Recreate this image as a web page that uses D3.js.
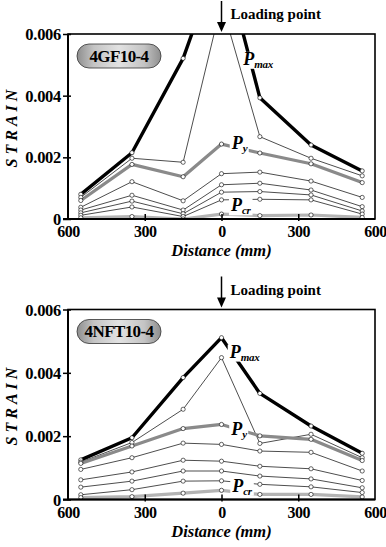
<!DOCTYPE html>
<html><head><meta charset="utf-8">
<script src="https://cdn.jsdelivr.net/npm/d3@7"></script>
<style>
html,body{margin:0;padding:0;background:#fff;}
svg{display:block;}
</style></head>
<body>
<svg id="c" width="386" height="547" font-family="Liberation Serif" font-weight="bold"></svg>
<script>
// ---------- data ----------
const distances = [-550, -350, -150, 0, 150, 350, 550];
const xTickValues = [-600, -300, 0, 300, 600];
const xTickLabels = ["600", "300", "0", "300", "600"];
const yTickValues = [0, 0.002, 0.004, 0.006];
const yTickLabels = ["0", "0.002", "0.004", "0.006"];

// Specimen 4GF10-4
const gfPmax = [0.0008, 0.00215, 0.00521, 0.0087, 0.00393, 0.0024, 0.00156];
const gfL2   = [0.0007, 0.00197, 0.00184, 0.0070, 0.00267, 0.00197, 0.0014];
const gfPy   = [0.0006, 0.00177, 0.00137, 0.00243, 0.00214, 0.00179, 0.00118];
const gfL4   = [0.00038, 0.00121, 0.00059, 0.00147, 0.00152, 0.00123, 0.0007];
const gfL5   = [0.00029, 0.00077, 0.00029, 0.00111, 0.00116, 0.00094, 0.0004];
const gfL6   = [0.0002, 0.00058, 0.00017, 0.00087, 0.00089, 0.00078, 0.00026];
const gfL7   = [0.00012, 0.00039, 0.00008, 0.00062, 0.00064, 0.00062, 0.00016];
const gfPcr  = [0.00004, 0.00008, 0.0, 0.00016, 0.00011, 0.00013, 0.00005];

// Specimen 4NFT10-4
const nfPmax = [0.00125, 0.00195, 0.00385, 0.00511, 0.00335, 0.00232, 0.00146];
const nfL2   = [0.00118, 0.0018, 0.00285, 0.00448, 0.00177, 0.00206, 0.00132];
const nfPy   = [0.00114, 0.00169, 0.00224, 0.00237, 0.00201, 0.0019, 0.00123];
const nfL4   = [0.00095, 0.00132, 0.00178, 0.00174, 0.00153, 0.00149, 0.0009];
const nfL5   = [0.00062, 0.00087, 0.00124, 0.00121, 0.00105, 0.00097, 0.0006];
const nfL6   = [0.00039, 0.00058, 0.0009, 0.0009, 0.00074, 0.00065, 0.00037];
const nfL7   = [0.00015, 0.00031, 0.00058, 0.00059, 0.00048, 0.0004, 0.00022];
const nfPcr  = [0.00006, 0.00009, 0.0002, 0.00029, 0.00016, 0.00016, 0.00008];

const specimenNames = ["4GF10-4", "4NFT10-4"];
const xAxisTitle = "Distance (mm)";
const yAxisTitle = "STRAIN";
const loadingText = "Loading point";

// ---------- drawing ----------
const FONT = "Liberation Serif";
const svg = d3.select("#c");
const defs = svg.append("defs");
const grad = defs.append("linearGradient").attr("id","pill").attr("x1","0").attr("x2","1").attr("y1","0").attr("y2","0");
[["0%","#8e8e8e"],["20%","#c4c4c4"],["50%","#e2e2e2"],["80%","#c4c4c4"],["100%","#8e8e8e"]].forEach(s=>grad.append("stop").attr("offset",s[0]).attr("stop-color",s[1]));

function styleFor(kind){
  if(kind==="max") return {stroke:"#000", w:3.4};
  if(kind==="y") return {stroke:"#8a8a8a", w:3.2};
  if(kind==="cr") return {stroke:"#b4b4b4", w:3.2};
  return {stroke:"#000", w:0.7};
}

function txt(sel){ return sel.append("text").attr("font-family",FONT).attr("font-weight","bold").attr("fill","#000"); }

function panel(cfg){
  const x = d3.scaleLinear().domain([-600,600]).range([68,375]);
  const y = d3.scaleLinear().domain([0,0.006]).range([cfg.bottom,cfg.top]);
  const g = svg.append("g");
  const clipId = "clip"+cfg.id;
  defs.append("clipPath").attr("id",clipId).append("rect")
    .attr("x",68).attr("y",cfg.top).attr("width",307).attr("height",cfg.bottom-cfg.top);

  const lineGen = d3.line().x((d,i)=>x(distances[i])).y(d=>y(d));
  const plot = g.append("g").attr("clip-path","url(#"+clipId+")");
  const order = cfg.series.slice().sort((a,b)=>(a.kind==="thin"?0:1)-(b.kind==="thin"?0:1));
  order.forEach(s=>{
    const st = styleFor(s.kind);
    plot.append("path").datum(s.values).attr("d",lineGen)
      .attr("fill","none").attr("stroke",st.stroke).attr("stroke-width",st.w)
      .attr("stroke-linejoin","round");
  });
  cfg.series.forEach(s=>{
    plot.selectAll(null).data(s.values).enter().append("circle")
      .attr("cx",(d,i)=>x(distances[i])).attr("cy",d=>y(d)).attr("r",2.1)
      .attr("fill","#fff").attr("stroke","#000").attr("stroke-width",0.6);
  });

  // P labels with white backgrounds
  cfg.labels.forEach(l=>{
    const t = txt(g).attr("x",x(l.xv)).attr("y",y(l.yv))
      .attr("font-style","italic").attr("font-size",18);
    t.append("tspan").text("P");
    t.append("tspan").attr("font-size",11).attr("dy",3).attr("letter-spacing","-0.3px").text(l.sub);
    const bb = t.node().getBBox();
    g.insert("rect", function(){return t.node();})
      .attr("x",bb.x-1).attr("y",bb.y+3).attr("width",bb.width+2).attr("height",bb.height-4).attr("fill","#fff");
  });

  // frame
  g.append("rect").attr("x",68).attr("y",cfg.top).attr("width",307).attr("height",cfg.bottom-cfg.top)
    .attr("fill","none").attr("stroke","#000").attr("stroke-width",1.6);
  g.append("line").attr("x1",63).attr("x2",375).attr("y1",cfg.bottom).attr("y2",cfg.bottom).attr("stroke","#000").attr("stroke-width",2);
  g.append("line").attr("x1",68).attr("x2",68).attr("y1",cfg.top).attr("y2",cfg.bottom).attr("stroke","#000").attr("stroke-width",2);

  // axes
  const yAx = d3.axisLeft(y).tickValues(yTickValues).tickFormat((d,i)=>yTickLabels[i]).tickSize(5).tickPadding(2);
  const ya = g.append("g").attr("transform","translate(68,0)").call(yAx)
    .attr("font-family",FONT).attr("font-weight","bold").attr("font-size",16.5);
  ya.select(".domain").remove();
  ya.selectAll(".tick line").attr("stroke-width",1.5).attr("x2",-5).attr("x1",3);
  ya.selectAll(".tick text").attr("fill","#000").attr("dy","0.34em").attr("letter-spacing","-0.3px");

  const xAx = d3.axisBottom(x).tickValues(xTickValues).tickFormat((d,i)=>xTickLabels[i]).tickSize(0).tickPadding(7);
  const xa = g.append("g").attr("transform","translate(0,"+cfg.bottom+")").call(xAx)
    .attr("font-family",FONT).attr("font-weight","bold").attr("font-size",16);
  xa.select(".domain").remove();
  xa.selectAll(".tick text").attr("fill","#000").attr("letter-spacing","-0.5px");
  xa.selectAll(".tick").filter(d=>Math.abs(d)===300 || d===0).append("line")
    .attr("y1",-5).attr("y2",2).attr("stroke","#000").attr("stroke-width",1.5);

  // axis titles
  txt(g).attr("x",x(0)).attr("y",cfg.bottom+37).attr("text-anchor","middle")
    .attr("font-style","italic").attr("font-size",16.5).text(xAxisTitle);
  txt(g).attr("transform","translate(17,"+((cfg.top+cfg.bottom)/2)+") rotate(-90)")
    .attr("text-anchor","middle").attr("font-style","italic").attr("font-size",16)
    .attr("letter-spacing","4px").text(yAxisTitle);

  // specimen pill
  g.append("rect").attr("x",77).attr("y",cfg.top+10).attr("width",84).attr("height",24).attr("rx",12)
    .attr("fill","url(#pill)").attr("stroke","#333").attr("stroke-width",0.8);
  txt(g).attr("x",119).attr("y",cfg.top+27.5).attr("text-anchor","middle").attr("font-size",17)
    .attr("letter-spacing","-0.6px").text(cfg.name);

  // loading arrow
  const ax = x(0);
  g.append("line").attr("x1",ax).attr("x2",ax).attr("y1",cfg.top-33).attr("y2",cfg.top-8).attr("stroke","#000").attr("stroke-width",1.5);
  g.append("path").attr("d",`M${ax-4.5},${cfg.top-12} L${ax+4.5},${cfg.top-12} L${ax},${cfg.top-2} Z`).attr("fill","#000");
  txt(g).attr("x",ax+9).attr("y",cfg.top-15).attr("font-size",15).text(loadingText);
}

function mk(vals, kinds){ return vals.map((v,i)=>({values:v, kind:kinds[i]})); }
const kinds = ["max","thin","y","thin","thin","thin","thin","cr"];

panel({id:1, top:34, bottom:219, name:specimenNames[0],
  series: mk([gfPmax,gfL2,gfPy,gfL4,gfL5,gfL6,gfL7,gfPcr], kinds),
  labels:[{xv:85,yv:0.0050,sub:"max"},{xv:40,yv:0.00227,sub:"y"},{xv:37,yv:0.00025,sub:"cr"}]});
panel({id:2, top:309.5, bottom:499.5, name:specimenNames[1],
  series: mk([nfPmax,nfL2,nfPy,nfL4,nfL5,nfL6,nfL7,nfPcr], kinds),
  labels:[{xv:32,yv:0.00448,sub:"max"},{xv:38,yv:0.00203,sub:"y"},{xv:42,yv:0.00025,sub:"cr"}]});
</script>
</body></html>
